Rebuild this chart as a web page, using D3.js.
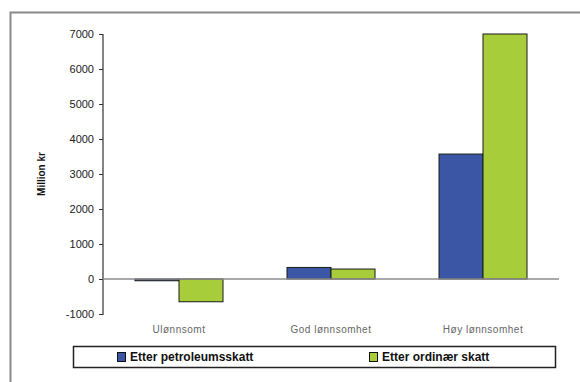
<!DOCTYPE html>
<html>
<head>
<meta charset="utf-8">
<script src="https://cdn.jsdelivr.net/npm/d3@7"></script>
<style>
  html, body { margin: 0; padding: 0; background: #fff; }
  svg { display: block; font-family: "Liberation Sans", Arial, sans-serif; }
</style>
</head>
<body>
<svg id="chart" width="580" height="382"></svg>
<script>
// Profitability categories and results under the two tax regimes (million NOK)
const categories = ["Ulønnsomt", "God lønnsomhet", "Høy lønnsomhet"];
const seriesNames = ["Etter petroleumsskatt", "Etter ordinær skatt"];
const petroleumsskatt = [-50, 330, 3570];
const ordinaerSkatt = [-650, 285, 7000];
const yTicks = [-1000, 0, 1000, 2000, 3000, 4000, 5000, 6000, 7000];
const colors = ["#3b56a5", "#a8cd3b"];

const svg = d3.select("#chart");

// Outer frame (left and top edges)
svg.append("path")
  .attr("d", "M10.5,382 V12.5 H580")
  .attr("fill", "none")
  .attr("stroke", "#8a8a8a")
  .attr("stroke-width", 2);

const plot = { left: 103, right: 559, top: 34, bottom: 314 };

const y = d3.scaleLinear().domain([-1000, 7000]).range([plot.bottom, plot.top]);
const x0 = d3.scaleBand().domain(categories).range([plot.left, plot.right]).paddingInner(0).paddingOuter(0);
const x1 = d3.scaleBand().domain(seriesNames).range([0, 88]);

const data = categories.map((c, i) => ({
  category: c,
  values: [
    { name: seriesNames[0], value: petroleumsskatt[i] },
    { name: seriesNames[1], value: ordinaerSkatt[i] }
  ]
}));

// Y axis (plain hyphen for negative numbers)
const yAxis = svg.append("g")
  .attr("transform", `translate(${plot.left},0)`)
  .call(d3.axisLeft(y).tickValues(yTicks).tickSize(4).tickPadding(5).tickFormat(d => String(d)));
yAxis.select(".domain").attr("stroke", "#333").attr("stroke-width", 1.2).attr("d", `M-4,${plot.top}.5H0V${plot.bottom}.5H-4`);
yAxis.selectAll(".tick line").attr("stroke", "#333");
yAxis.selectAll(".tick text")
  .attr("fill", "#222")
  .style("font-size", "11px");

// Y axis title
svg.append("text")
  .attr("transform", `translate(45,174) rotate(-90)`)
  .attr("text-anchor", "middle")
  .style("font-size", "10px")
  .style("font-weight", "bold")
  .attr("fill", "#111")
  .text("Million kr");

// Bars
const groups = svg.append("g").selectAll("g")
  .data(data)
  .join("g")
  .attr("transform", d => `translate(${x0(d.category) + (x0.bandwidth() - 88) / 2},0)`);

groups.selectAll("rect")
  .data(d => d.values)
  .join("rect")
  .attr("x", d => x1(d.name))
  .attr("width", x1.bandwidth())
  .attr("y", d => y(Math.max(0, d.value)))
  .attr("height", d => Math.abs(y(d.value) - y(0)))
  .attr("fill", (d, i) => colors[i])
  .attr("stroke", "#1a1a1a")
  .attr("stroke-width", 1);

// Zero line
svg.append("line")
  .attr("x1", plot.left).attr("x2", plot.right)
  .attr("y1", y(0)).attr("y2", y(0))
  .attr("stroke", "#8c8c8c")
  .attr("stroke-width", 1.5);

// Category labels
svg.append("g").selectAll("text")
  .data(categories)
  .join("text")
  .attr("x", d => x0(d) + x0.bandwidth() / 2)
  .attr("y", 333)
  .attr("text-anchor", "middle")
  .style("font-size", "10px")
  .style("letter-spacing", "0.5px")
  .attr("fill", "#666")
  .text(d => d);

// Legend
const legend = svg.append("g");
legend.append("rect")
  .attr("x", 73.5).attr("y", 346.5)
  .attr("width", 482).attr("height", 21)
  .attr("fill", "#fff")
  .attr("stroke", "#222")
  .attr("stroke-width", 1.5);

const legendX = [117, 369];
seriesNames.forEach((name, i) => {
  legend.append("rect")
    .attr("x", legendX[i] + 0.5).attr("y", 352.5)
    .attr("width", 8).attr("height", 9)
    .attr("fill", colors[i])
    .attr("stroke", "#111")
    .attr("stroke-width", 1);
  legend.append("text")
    .attr("x", legendX[i] + 13)
    .attr("y", 361)
    .style("font-size", "12px")
    .style("font-weight", "bold")
    .attr("fill", "#111")
    .text(name);
});
</script>
</body>
</html>
